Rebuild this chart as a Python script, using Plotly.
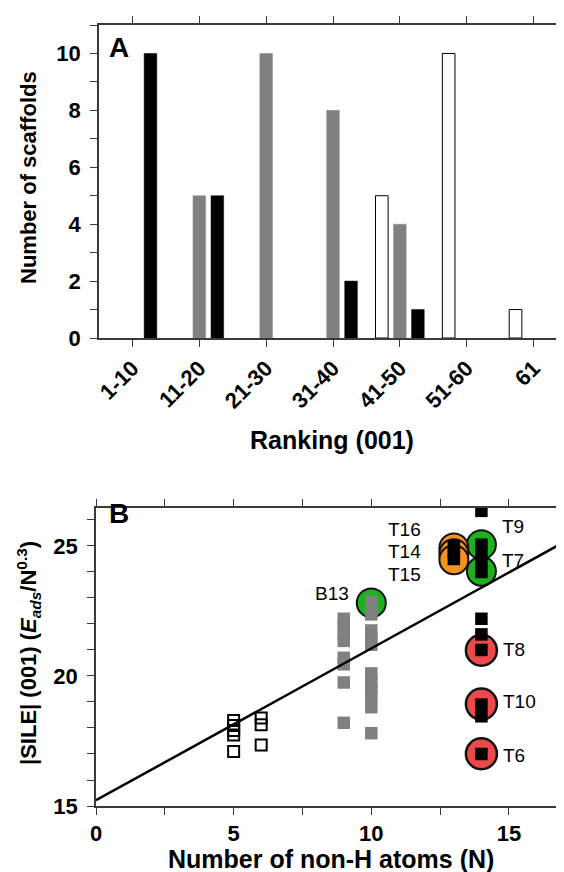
import plotly.graph_objects as go

W, H = 564, 872

# ---------- Panel A data ----------
rank_cats = ["1-10", "11-20", "21-30", "31-40", "41-50", "51-60", "61"]
white_vals = [0, 0, 0, 0, 5, 10, 1]
gray_vals = [0, 5, 10, 8, 4, 0, 0]
black_vals = [10, 5, 0, 2, 1, 0, 0]

# ---------- Panel B data ----------
open_x = [5, 5, 5, 5, 5, 6, 6, 6]
open_y = [18.29, 18.1, 17.9, 17.73, 17.1, 18.38, 18.12, 17.35]

gray_x = [9] * 8 + [10] * 12
gray_y = [22.2, 21.9, 21.6, 21.35, 20.7, 20.45, 19.75, 18.2,
          22.85, 22.6, 22.37, 21.75, 21.45, 21.2, 20.1, 19.8, 19.5, 19.2, 18.8, 17.8]

black_x = [13, 13, 13] + [14] * 11
black_y = [25.0, 24.75, 24.5,
           26.35, 25.05, 24.7, 24.35, 24.0, 22.2, 21.6, 21.0, 18.9, 18.45, 17.0]

green_x = [10, 14, 14]
green_y = [22.81, 25.05, 24.03]
orange_x = [13, 13, 13]
orange_y = [24.92, 24.7, 24.47]
red_x = [14, 14, 14]
red_y = [20.99, 18.92, 17.01]

fit_x = [0, 17]
fit_y = [15.22, 25.15]

label_text = ["B13", "T16", "T14", "T15", "T9", "T7", "T8", "T10", "T6"]
label_x = [9.27, 11.89, 11.89, 11.89, 14.66, 14.66, 14.7, 14.7, 14.7]
label_y = [23.19, 25.62, 24.77, 23.92, 25.73, 24.46, 21.0, 19.0, 16.96]
label_anchor = ["right", "right", "right", "right", "left", "left", "left", "left", "left"]

FONT = "Arial, Liberation Sans, sans-serif"
AXC = "#3a3a3a"


def nz(vals):
    # empty bins are not drawn
    return [v if v != 0 else None for v in vals]


fig = go.Figure()

# Bars
fig.add_trace(go.Bar(x=rank_cats, y=nz(white_vals), marker=dict(color="white", line=dict(color="black", width=1)),
                     xaxis="x", yaxis="y", showlegend=False))
fig.add_trace(go.Bar(x=rank_cats, y=nz(gray_vals), marker=dict(color="#808080", line=dict(color="#8a8a8a", width=0.5)),
                     xaxis="x", yaxis="y", showlegend=False))
fig.add_trace(go.Bar(x=rank_cats, y=nz(black_vals), marker=dict(color="black", line=dict(color="black", width=0.5)),
                     xaxis="x", yaxis="y", showlegend=False))

# Scatter panel
fig.add_trace(go.Scatter(x=open_x, y=open_y, mode="markers", xaxis="x2", yaxis="y2", showlegend=False,
                         marker=dict(symbol="square-open", size=11, color="black", line=dict(width=2, color="black"))))
fig.add_trace(go.Scatter(x=green_x, y=green_y, mode="markers", xaxis="x2", yaxis="y2", showlegend=False,
                         marker=dict(symbol="circle", size=29, color="#1eb01e", line=dict(width=2, color="#111111"))))
fig.add_trace(go.Scatter(x=orange_x, y=orange_y, mode="markers", xaxis="x2", yaxis="y2", showlegend=False,
                         marker=dict(symbol="circle", size=29, color="#f7921e", line=dict(width=2, color="#111111"))))
fig.add_trace(go.Scatter(x=red_x, y=red_y, mode="markers", xaxis="x2", yaxis="y2", showlegend=False,
                         marker=dict(symbol="circle", size=31, color="#ec4a4a", line=dict(width=2.5, color="#111111"))))
fig.add_trace(go.Scatter(x=gray_x, y=gray_y, mode="markers", xaxis="x2", yaxis="y2", showlegend=False,
                         marker=dict(symbol="square", size=12.5, color="#808080", line=dict(width=0))))
fig.add_trace(go.Scatter(x=fit_x, y=fit_y, mode="lines", xaxis="x2", yaxis="y2", showlegend=False,
                         line=dict(color="black", width=2.5)))
fig.add_trace(go.Scatter(x=black_x, y=black_y, mode="markers", xaxis="x2", yaxis="y2", showlegend=False,
                         marker=dict(symbol="square", size=12.5, color="black", line=dict(width=0))))

tickfont = dict(family=FONT, size=22, color="black", weight="bold")
common = dict(showline=True, linecolor=AXC, linewidth=1.5, mirror="ticks", ticks="outside",
              ticklen=7, tickwidth=1.2, tickcolor=AXC, showgrid=False, zeroline=False,
              tickfont=tickfont, automargin=False)
minor_common = dict(ticks="outside", ticklen=7, tickcolor=AXC, tickwidth=1.2, showgrid=False)

fig.update_layout(
    template="none",
    width=W, height=H,
    margin=dict(l=0, r=0, t=0, b=0),
    paper_bgcolor="white", plot_bgcolor="white",
    barmode="group", bargap=0.19, bargroupgap=0.3,
    xaxis=dict(domain=[91 / W, 559 / W], anchor="y", tickangle=-45, **common),
    yaxis=dict(domain=[1 - 330 / H, 1 - 17 / H], anchor="x", range=[0, 11], dtick=2, tick0=0,
               ticklabelstandoff=5, minor=dict(dtick=1, **minor_common), **common),
    xaxis2=dict(domain=[88 / W, 556 / W], anchor="y2", range=[0, 17], dtick=5, tick0=0,
                minor=dict(dtick=2.5, **minor_common), **common),
    yaxis2=dict(domain=[1 - 798 / H, 1 - 500 / H], anchor="x2", range=[15, 26.46], dtick=5, tick0=15,
                ticklabelstandoff=5, minor=dict(dtick=1, **minor_common), **common),
)

ann = []
vfont = dict(family=FONT, size=22, color="black")
hfont = dict(family=FONT, size=25, color="black")
ann.append(dict(text="<b>Number of scaffolds</b>", x=20 / W, y=1 - 170 / H, xref="paper", yref="paper",
                textangle=-90, showarrow=False, font=vfont, xanchor="center", yanchor="middle"))
ann.append(dict(text="<b>Ranking (001)</b>", x=324 / W, y=1 - 432 / H, xref="paper", yref="paper",
                showarrow=False, font=hfont, xanchor="center", yanchor="middle"))
ann.append(dict(text="<b>|SILE| (001) (<i>E</i><sub><i>ads</i></sub>/N<sup>0.3</sup>)</b>",
                x=20 / W, y=1 - 645 / H, xref="paper", yref="paper",
                textangle=-90, showarrow=False, font=vfont, xanchor="center", yanchor="middle"))
ann.append(dict(text="<b>Number of non-H atoms (N)</b>", x=323 / W, y=1 - 851 / H, xref="paper", yref="paper",
                showarrow=False, font=hfont, xanchor="center", yanchor="middle"))
ann.append(dict(text="<b>A</b>", x=111 / W, y=1 - 40 / H, xref="paper", yref="paper",
                showarrow=False, font=dict(family=FONT, size=28, color="black"), xanchor="center", yanchor="middle"))
ann.append(dict(text="<b>B</b>", x=111 / W, y=1 - 505 / H, xref="paper", yref="paper",
                showarrow=False, font=dict(family=FONT, size=28, color="black"), xanchor="center", yanchor="middle"))

for t, lx, ly, a in zip(label_text, label_x, label_y, label_anchor):
    ann.append(dict(text=t, x=lx, y=ly, xref="x2", yref="y2", showarrow=False, xanchor=a, yanchor="middle",
                    font=dict(family=FONT, size=19, color="black")))

fig.update_layout(annotations=ann)

fig.write_html("out.html")
